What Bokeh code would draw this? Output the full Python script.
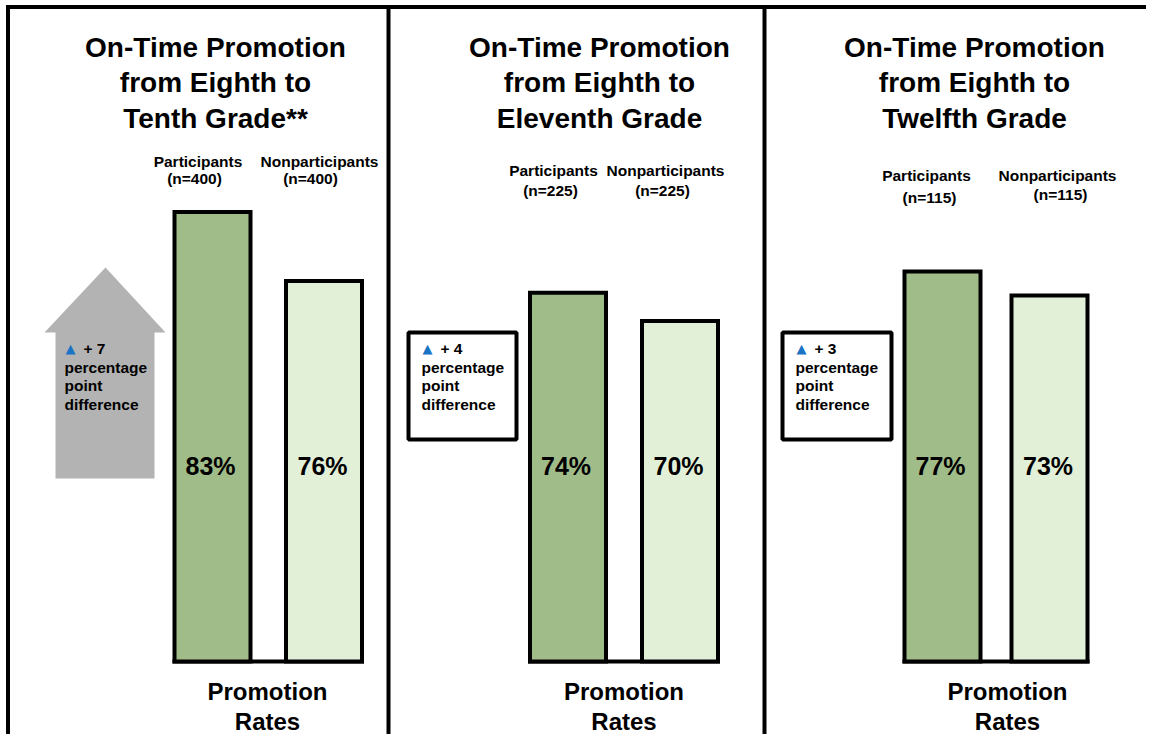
from bokeh.plotting import figure
from bokeh.models import Range1d
from bokeh.core.properties import value
from bokeh.embed import file_html
from bokeh.resources import INLINE

# ---------------- data ----------------
title_lines = [
    ["On-Time Promotion", "from Eighth to", "Tenth Grade**"],
    ["On-Time Promotion", "from Eighth to", "Eleventh Grade"],
    ["On-Time Promotion", "from Eighth to", "Twelfth Grade"],
]
groups = ["Participants", "Nonparticipants"]
n_sizes = [400, 225, 115]
participants = [83, 74, 77]
nonparticipants = [76, 70, 73]
point_diffs = [7, 4, 3]   # differences as reported on the chart
bottom_label = ["Promotion", "Rates"]
diff_lines = ["percentage", "point", "difference"]

# ---------------- layout / style ----------------
W, H = 1146, 734
FONT = value("Liberation Sans")
BASE_PX = 661            # picture y of the bar baseline
floors = [37.4, 21.7, 12.0]   # axis value at the baseline of each panel
ppp = [9.86, 7.05, 6.0]       # pixels per percentage point in each panel
K = 0.37                      # baseline correction (fraction of font size)


def yb(ys, size):
    return [y - K * size for y in ys]


title_x = [215, 599, 974]
title_y = [57, 92.5, 128]
bar_x = [(212, 323.5), (567.5, 679.5), (942, 1049)]
bar_w = 76
grp_label_x = [((197.5, 194), (319, 310)), ((553, 550), (665, 662)), ((926, 929), (1057, 1060))]
grp_label_y = [((167, 184), (167, 184)), ((176, 196), (176, 196)), ((181, 203), (181, 200))]
pct_y = 475
bottom_x = [267, 623.5, 1007]
bottom_y = [700, 730]
note_x = [64, 421, 795]
note_y = [354, 373, 391, 410]
PART_COLOR = "#a0bc88"
NON_COLOR = "#e3f0d8"

p = figure(width=W, height=H, output_backend="svg", toolbar_location=None,
           x_range=Range1d(0, W), y_range=Range1d(H, 0),
           min_border=0, outline_line_color=None,
           x_axis_location=None, y_axis_location=None)
p.grid.visible = False
p.background_fill_color = "white"
p.border_fill_color = "white"

# panel frame lines
p.segment(x0=[7.5, 5.5, 388, 764], y0=[5, 6.5, 5, 5], x1=[7.5, W, 388, 764], y1=[H, 6.5, H, H],
          line_color="black", line_width=4)

# arrow (panel 1) and boxes (panels 2, 3)
p.patch(x=[105, 165, 154, 154, 55, 55, 44], y=[267, 332, 332, 478, 478, 332, 332],
        fill_color="#b3b3b3", line_color=None)
p.quad(left=[408, 782], right=[516, 891], top=[332, 332], bottom=[439, 439],
       fill_color="white", line_color="black", line_width=4)

for i in range(3):
    rname = f"v{i}"
    start = floors[i] - (H - BASE_PX) / ppp[i]
    p.extra_y_ranges[rname] = Range1d(start, start + H / ppp[i])
    vals = [participants[i], nonparticipants[i]]
    xs = list(bar_x[i])
    # baseline
    p.segment(x0=[xs[0] - bar_w / 2 - 2], y0=[floors[i]], x1=[xs[1] + bar_w / 2 + 2], y1=[floors[i]],
              line_color="black", line_width=4, y_range_name=rname)
    p.vbar(x=xs, width=bar_w, top=vals, bottom=floors[i],
           fill_color=[PART_COLOR, NON_COLOR], line_color="black", line_width=4,
           line_join="miter", y_range_name=rname)

    # title
    p.text(x=[title_x[i]] * 3, y=yb(title_y, 28), text=title_lines[i], text_font=FONT,
           text_font_style="bold", text_font_size="28px", text_align="center",
           text_baseline="alphabetic", text_color="black")
    # group labels
    for g in range(2):
        lx = grp_label_x[i][g]
        ly = grp_label_y[i][g]
        p.text(x=list(lx), y=yb(ly, 15.5), text=[groups[g], f"(n={n_sizes[i]})"], text_font=FONT,
               text_font_style="bold", text_font_size="15.5px", text_align="center",
               text_baseline="alphabetic", text_color="black")
    # percent labels
    p.text(x=[xs[0] - 2, xs[1] - 1.5], y=yb([pct_y, pct_y], 25), text=[f"{v}%" for v in vals],
           text_font=FONT, text_font_style="bold", text_font_size="25px", text_align="center",
           text_baseline="alphabetic", text_color="black")
    # bottom label
    p.text(x=[bottom_x[i]] * 2, y=yb(bottom_y, 24), text=bottom_label, text_font=FONT,
           text_font_style="bold", text_font_size="24px", text_align="center",
           text_baseline="alphabetic", text_color="black")
    # difference note
    nx = note_x[i]
    p.text(x=[nx + 1], y=yb([note_y[0]], 15.5), text=["▲"], text_font=value("DejaVu Sans"),
           text_font_size="13px", text_align="left", text_baseline="alphabetic",
           text_color="#1a73c4")
    p.text(x=[nx + 19], y=yb([note_y[0]], 15.5), text=[f"+ {point_diffs[i]}"], text_font=FONT,
           text_font_style="bold", text_font_size="15.5px", text_align="left",
           text_baseline="alphabetic", text_color="black")
    p.text(x=[nx] * 3, y=yb(note_y[1:], 15.5), text=diff_lines, text_font=FONT,
           text_font_style="bold", text_font_size="15.5px", text_align="left",
           text_baseline="alphabetic", text_color="black")

open("out.html", "w").write(file_html(p, INLINE))
